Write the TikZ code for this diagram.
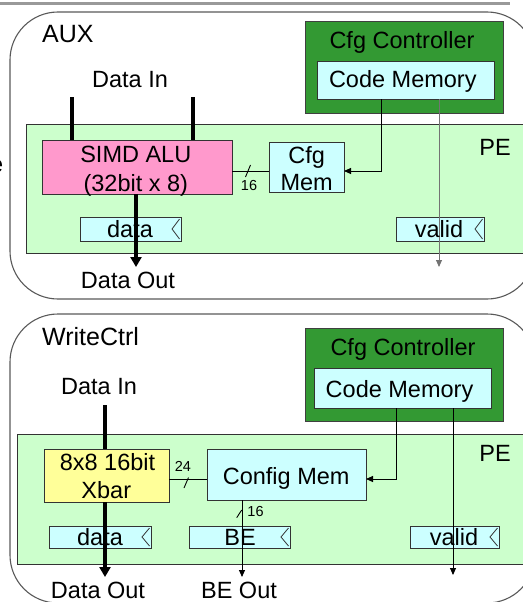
\documentclass[tikz,border=0pt]{standalone}
\usepackage{fontspec}
\setmainfont{Liberation Sans}
\usetikzlibrary{arrows.meta}
\definecolor{dkgreen}{HTML}{339933}
\definecolor{ltcyan}{HTML}{CCFFFF}
\definecolor{ltgreen}{HTML}{CCFFCC}
\definecolor{pinkbox}{HTML}{FF99CC}
\definecolor{yelbox}{HTML}{FFFF99}
\begin{document}
\begin{tikzpicture}[x=1pt,y=-1pt,
  panel/.style={draw=black!65, line width=1.1pt, rounded corners=48pt, inner sep=0, outer sep=0},
  box/.style={draw=black!80, line width=0.9pt, inner sep=0, outer sep=0},
  txt/.style={font=\fontsize{23.5}{28}\selectfont, inner sep=0, anchor=base},
  bigtxt/.style={font=\fontsize{25}{28}\selectfont, inner sep=0, anchor=base west},
  smalltxt/.style={font=\fontsize{14.5}{16}\selectfont, inner sep=0, anchor=base},
  wire/.style={line width=0.9pt, draw=black},
  bus/.style={line width=4pt, draw=black},
  arr/.style={-{Triangle[width=6pt,length=7pt]}},
  bigarr/.style={-{Triangle[width=11pt,length=10pt]}}
]
\useasboundingbox (0,0) rectangle (522,602);

% top rule
\draw[line width=3pt, black!40] (0,4) -- (510,4);
\node[txt, anchor=base east] (frag) at (3.5,172) {e};

% ================= AUX panel =================
\node[panel, minimum width=525, minimum height=287] (aux) at (272.5,155.5) {};
\node[bigtxt] (auxlbl) at (42,43) {AUX};
\node[box, fill=dkgreen, draw=black!75, minimum width=198, minimum height=92] (ctrlA) at (404,67) {};
\node[box, fill=ltcyan, minimum width=177, minimum height=38] (codeA) at (405.5,80) {};
\node[box, fill=ltgreen, minimum width=504, minimum height=129] (peA) at (278,188.5) {};
\node[box, fill=pinkbox, minimum width=190, minimum height=54] (simd) at (137,167) {};
\node[box, fill=ltcyan, minimum width=75, minimum height=50] (cfgmem) at (306.5,167) {};
\node[box, fill=ltcyan, minimum width=101, minimum height=24] (dataA) at (130.5,229) {};
\node[box, fill=ltcyan, minimum width=88, minimum height=24] (validA) at (440,229) {};

% wires AUX
\coordinate (dinA1) at (72,97);
\coordinate (dinA2) at (193,97);
\draw[bus] (dinA1) -- (dinA1 |- simd.north);
\draw[bus] (dinA2) -- (dinA2 |- simd.north);
\coordinate (doutA) at (136,267);
\draw[bus, bigarr] (doutA |- simd.south) -- (doutA);
\coordinate (cA) at (249,171);
\draw[wire] (simd.east |- cA) -- (cfgmem.west |- cA);
\draw[wire] ([shift={(-3.5,6)}]cA) -- ([shift={(1.5,-6)}]cA);
\coordinate (kA) at (381,171);
\draw[wire, arr] (kA |- codeA.south) -- (kA) -- (cfgmem.east |- kA);
\coordinate (vA) at (439,267);
\draw[wire, draw=black!55, arr] (vA |- codeA.south) -- (vA);

% labels AUX
\node[txt] (ctrlAlbl) at (402,48.3) {Cfg Controller};
\node[txt] (codeAlbl) at (402.8,88) {Code Memory};
\node[txt] (dinAlbl) at (130,87) {Data In};
\node[txt] (peAlbl) at (495,155) {PE};
\node[txt] (simdl1) at (135.8,162) {SIMD ALU};
\node[txt] (simdl2) at (135.8,191) {(32bit x 8)};
\node[txt] (cfgl1) at (306.7,163) {Cfg};
\node[txt] (cfgl2) at (306.7,190) {Mem};
\node[smalltxt] (w16A) at (249,190.5) {16};
\node[txt] (dataAlbl) at (130,237.3) {data};
\node[txt] (validAlbl) at (439,237.3) {valid};
\node[txt] (doutAlbl) at (128,288) {Data Out};

% ================= WriteCtrl panel =================
\node[panel, minimum width=525, minimum height=289] (wctrl) at (272.5,458.5) {};
\node[bigtxt] (wlbl) at (42,345) {WriteCtrl};
\node[box, fill=dkgreen, draw=black!75, minimum width=198, minimum height=93] (ctrlB) at (404,374.5) {};
\node[box, fill=ltcyan, minimum width=177, minimum height=40] (codeB) at (402.5,388) {};
\node[box, fill=ltgreen, minimum width=513, minimum height=130] (peB) at (273.5,499) {};
\node[box, fill=yelbox, minimum width=125, minimum height=53] (xbar) at (106.5,475.5) {};
\node[box, fill=ltcyan, minimum width=159, minimum height=51] (confmem) at (286.5,474.5) {};
\node[box, fill=ltcyan, minimum width=102, minimum height=22] (dataB) at (100,537) {};
\node[box, fill=ltcyan, minimum width=101, minimum height=22] (beB) at (239.5,537) {};
\node[box, fill=ltcyan, minimum width=89, minimum height=22] (validB) at (454.5,537) {};

% wires WriteCtrl
\coordinate (dinB) at (105,405);
\draw[bus] (dinB) -- (dinB |- xbar.north);
\coordinate (doutB) at (105,577);
\draw[bus, bigarr] (doutB |- xbar.south) -- (doutB);
\coordinate (cB) at (186.5,479);
\draw[wire] (xbar.east |- cB) -- (confmem.west |- cB);
\draw[wire] ([shift={(-2.5,9)}]cB) -- ([shift={(2,-1.5)}]cB);
\coordinate (kB) at (396,479);
\draw[wire, arr] (kB |- codeB.south) -- (kB) -- (confmem.east |- kB);
\coordinate (vB) at (453,575);
\draw[wire, arr] (vB |- codeB.south) -- (vB);
\coordinate (beO) at (242,577);
\draw[wire, arr] (beO |- confmem.south) -- (beO);
\draw[wire] (236.7,517.7) -- (241.7,510);

% labels WriteCtrl
\node[txt] (ctrlBlbl) at (403,355) {Cfg Controller};
\node[txt] (codeBlbl) at (399.5,397.5) {Code Memory};
\node[txt] (dinBlbl) at (99,394) {Data In};
\node[txt] (peBlbl) at (495,461.5) {PE};
\node[txt] (xbl1) at (107.5,470) {8x8 16bit};
\node[txt] (xbl2) at (106.3,498.5) {Xbar};
\node[txt] (cmlbl) at (286.2,484) {Config Mem};
\node[smalltxt] (w24) at (183,471) {24};
\node[smalltxt] (w16B) at (255.5,516.5) {16};
\node[txt] (dataBlbl) at (100,545.5) {data};
\node[txt] (beBlbl) at (240,545.5) {BE};
\node[txt] (validBlbl) at (454,545.5) {valid};
\node[txt] (doutBlbl) at (98,598) {Data Out};
\node[txt] (beOlbl) at (239,598) {BE Out};

% register notches
\foreach \n in {dataA,validA,dataB,beB,validB}
  \draw[line width=0.8pt, black!80] ([xshift=-1.5pt,yshift=-2pt]\n.north east) -- ([xshift=-9pt]\n.east) -- ([xshift=-1.5pt,yshift=2pt]\n.south east);
\end{tikzpicture}
\end{document}
